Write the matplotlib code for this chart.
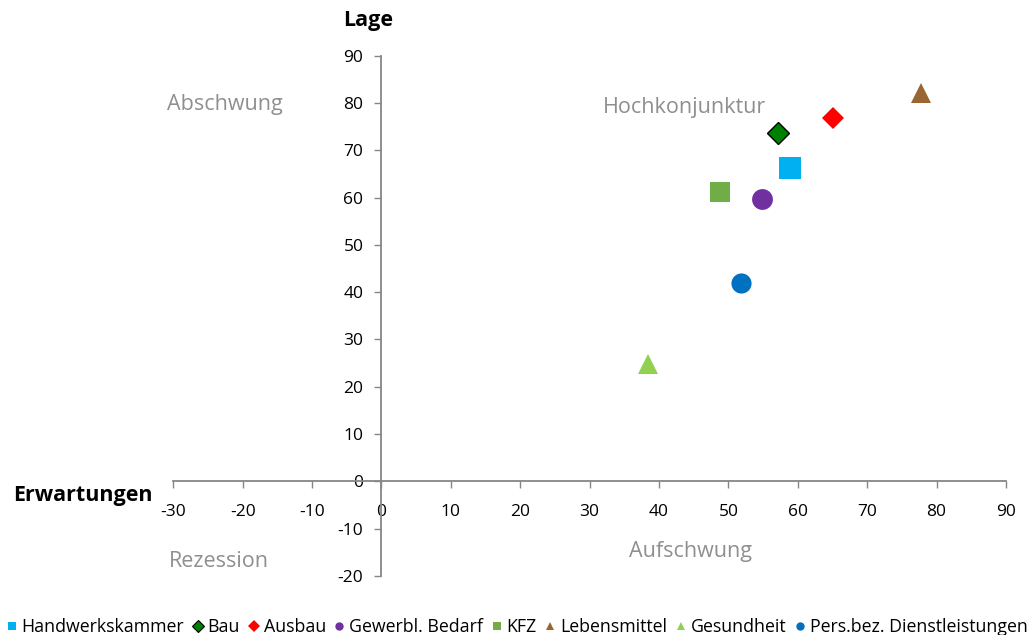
import matplotlib
matplotlib.use("Agg")
import matplotlib.pyplot as plt
from matplotlib.lines import Line2D

plt.rcParams['font.family'] = ['Open Sans', 'DejaVu Sans']

# Branchen: Erwartungen (x) und Lage (y)
branchen = ["Handwerkskammer", "Bau", "Ausbau", "Gewerbl. Bedarf", "KFZ",
            "Lebensmittel", "Gesundheit", "Pers.bez. Dienstleistungen"]
erwartungen = [58.8, 57.2, 65.1, 54.8, 48.8, 77.8, 38.4, 51.8]
lage = [66.2, 73.6, 76.9, 59.8, 61.1, 82.1, 24.9, 41.9]

x_ticks = list(range(-30, 91, 10))
y_ticks = list(range(-20, 91, 10))

quadranten = ["Abschwung", "Hochkonjunktur", "Rezession", "Aufschwung"]

farben = ["#00B0F0", "#008000", "#FF0000", "#7030A0", "#70AD47",
          "#996633", "#92D050", "#0070C0"]
marker = ["s", "D", "D", "o", "s", "^", "^", "o"]
groessen = [16, 11.5, 11.5, 15, 15, 14, 14, 14.5]
kanten = ["none", "black", "none", "none", "none", "none", "none", "none"]

fig = plt.figure(figsize=(10.35, 6.35), dpi=100)
ax = fig.add_axes([0.1674, 0.0929, 0.972 - 0.1674, 0.9123 - 0.0929])

for name, xv, yv, c, m, s, e in zip(branchen, erwartungen, lage, farben,
                                     marker, groessen, kanten):
    ax.plot([xv], [yv], linestyle="none", marker=m, markersize=s,
            markerfacecolor=c, markeredgecolor=e if e != "none" else c,
            markeredgewidth=1.0 if e != "none" else 0.0, zorder=3)

ax.set_xlim(-30, 90)
ax.set_ylim(-20, 90)
ax.set_xticks(x_ticks)
ax.set_yticks(y_ticks)
ax.set_xticklabels([str(v) for v in x_ticks])
ax.set_yticklabels([str(v) for v in y_ticks])

achsfarbe = "#868686"
ax.spines["left"].set_position(("data", 0))
ax.spines["bottom"].set_position(("data", 0))
ax.spines["right"].set_visible(False)
ax.spines["top"].set_visible(False)
for sp in ("left", "bottom"):
    ax.spines[sp].set_color(achsfarbe)
    ax.spines[sp].set_linewidth(1.3)
ax.tick_params(axis="both", direction="out", length=5, width=1.0,
               color=achsfarbe, labelsize=12.5, labelcolor="black")
ax.tick_params(axis="x", pad=11)
ax.tick_params(axis="y", pad=8)

# Quadrantenbeschriftung
grau = "#8F8F8F"
pos = [(-22.5, 79.6), (43.6, 79.0), (-23.4, -17.0), (44.6, -14.9)]
for txt, (px, py) in zip(quadranten, pos):
    ax.text(px, py, txt, ha="center", va="center", fontsize=15.5, color=grau)

fig.text(0.3556, 0.967, "Lage", ha="center", va="center",
         fontsize=15.5, fontweight="bold")
fig.text(0.0802, 0.220, "Erwartungen", ha="center", va="center",
         fontsize=15.5, fontweight="bold")

handles = [Line2D([], [], linestyle="none", marker=m, markersize=6,
                  markerfacecolor=c,
                  markeredgecolor=e if e != "none" else c,
                  markeredgewidth=0.8 if e != "none" else 0.0)
           for c, m, e in zip(farben, marker, kanten)]
fig.legend(handles, branchen, loc="center", bbox_to_anchor=(0.5, 0.013),
           ncol=len(branchen), frameon=False, fontsize=12.8,
           handlelength=0.5, handletextpad=0.3, columnspacing=0.52,
           borderaxespad=0)

fig.savefig("out.png", dpi=100)
